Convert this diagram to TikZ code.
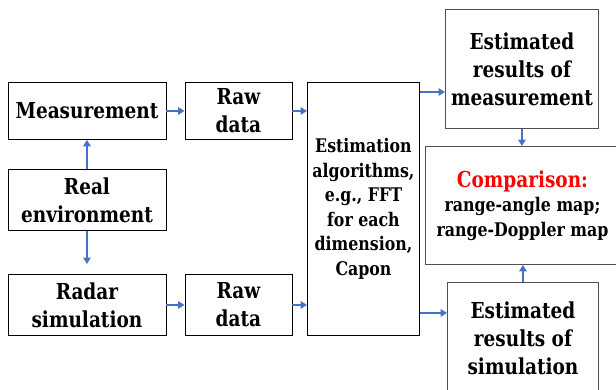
\documentclass[tikz,border=0pt]{standalone}
\usepackage{fontspec}
\newfontfamily\dvs{DejaVu Serif}[FakeStretch=0.84]
\usetikzlibrary{arrows.meta}
\definecolor{arrowblue}{HTML}{4472C4}
\definecolor{boxgray}{HTML}{505050}
\begin{document}
\begin{tikzpicture}[x=1pt,y=-1pt,
  box/.style={draw=black,line width=0.9pt,anchor=north west,inner sep=0pt,align=center,
    font=\dvs\fontsize{22}{28}\selectfont\bfseries},
  gbox/.style={box,draw=boxgray},
  small/.style={font=\dvs\fontsize{18.8}{24.5}\selectfont\bfseries},
  conn/.style={draw=arrowblue,line width=2pt,-{Triangle[length=6.5pt,width=7.5pt]}}]
\useasboundingbox (0,0) rectangle (616,389);
\clip (0,0) rectangle (616,389);
\node[box,minimum width=158pt,minimum height=57pt] (meas) at (7.5,82) {Measurement};
\node[box,minimum width=158pt,minimum height=61pt] (real) at (7.5,169) {Real\\environment};
\node[box,minimum width=158pt,minimum height=61pt] (radar) at (7.5,274) {Radar\\simulation};
\node[box,minimum width=107pt,minimum height=57pt] (raw1) at (184.5,82) {Raw\\data};
\node[box,minimum width=107pt,minimum height=61pt] (raw2) at (184.5,274) {Raw\\data};
\node[box,small,minimum width=112pt,minimum height=253pt] (est) at (307,82)
  {Estimation\\algorithms,\\e.g., FFT\\for each\\dimension,\\Capon};
\node[gbox,minimum width=153pt,minimum height=119pt] (estm) at (445,9)
  {Estimated\\results of\\measurement};
\node[gbox,small,minimum width=194pt,minimum height=118pt] (comp) at (425,146)
  {{\color{red}\fontsize{22}{25}\selectfont Comparison:}\\range-angle map;\\range-Doppler map};
\node[gbox,minimum width=151pt,minimum height=112pt] (ests) at (447,282)
  {Estimated\\results of\\simulation};
\draw[conn] (meas.east) -- (raw1.west);
\draw[conn] (raw1.east) -- (raw1.east -| est.west);
\draw[conn] (real.north) -- (meas.south);
\draw[conn,shorten >=10pt] (real.south) -- (radar.north);
\draw[conn] (radar.east) -- (raw2.west);
\draw[conn] (raw2.east) -- (raw2.east -| est.west);
\draw[conn] ([yshift=-10pt]est.north east) -- ([yshift=-10pt]est.north east -| estm.west);
\draw[conn] ([yshift=23pt]est.south east) -- ([yshift=23pt]est.south east -| ests.west);
\draw[conn] (estm.south) -- (estm.south |- comp.north);
\draw[conn] (ests.north) -- (ests.north |- comp.south);
\end{tikzpicture}
\end{document}
